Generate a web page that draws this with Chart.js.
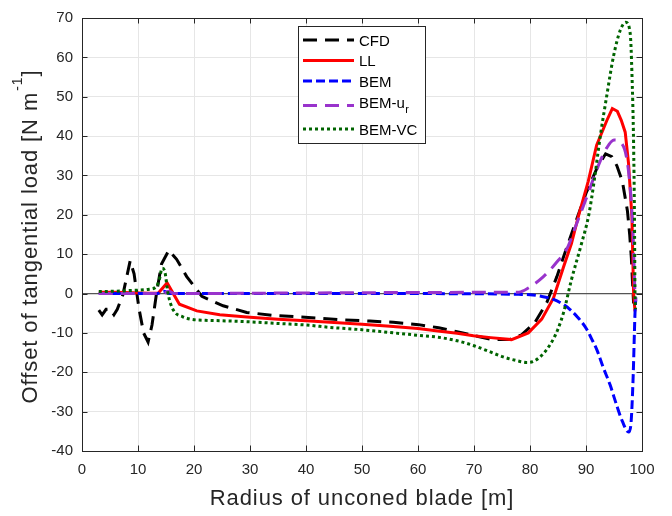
<!DOCTYPE html>
<html>
<head>
<meta charset="utf-8">
<title>Offset of tangential load</title>
<script src="https://cdn.jsdelivr.net/npm/chart.js@4.4.1/dist/chart.umd.min.js"></script>
<style>
  html, body { margin: 0; padding: 0; background: #ffffff; }
  #wrap { width: 672px; height: 516px; }
</style>
</head>
<body>
<div id="wrap"><canvas id="loadChart" width="672" height="516"></canvas></div>
<script>
// Radius [m] and tangential load offset [N/m] for each model
const cfdR = [3, 3.6, 4.3, 5.0, 5.7, 6.3, 7.3, 8.6, 9.3, 10.2, 11, 11.8, 12.5, 13.3, 14.2, 15.5, 16.9, 18.7, 21.4, 25.2,
  29.4, 33.9, 38.3, 42.5, 47, 51.4, 55.6, 60.1, 63.7, 68, 73.2, 76.4, 78.5, 80.9, 83, 84.8, 86.2, 88, 90, 92,
  93.5, 94.6, 95.5, 96.5, 97.4, 97.8, 98.1, 98.3, 98.5];
const cfdLoad = [-4.2, -5.4, -4.0, -3.9, -5.4, -4.0, -0.3, 8.3, 5, -4, -10, -12.3, -8, 0, 7.5, 11, 8.7, 4.3, -0.7, -3.1,
  -4.8, -5.5, -5.9, -6.3, -6.7, -7.0, -7.3, -7.9, -8.7, -10, -11.7, -11.7, -10.5, -7.3, -2.3, 4.3, 10.2, 17.5, 25.5, 32,
  35.5, 34.8, 32.5, 28.5, 21, 15, 9, 3, -2.5];

const llR = [3, 6, 9, 12, 13.6, 15.2, 17.4, 20.5, 24.6, 30, 35, 40, 44.3, 50, 55, 60, 63.9, 67, 69.9, 73,
  76.7, 79.7, 82.1, 84.2, 86, 87.4, 88.6, 90.4, 91.9, 93.7, 94.7, 95.6, 96.3, 97, 97.6, 98.2, 98.5, 98.75];
const llLoad = [0.3, 0.3, 0.2, 0.1, 0.1, 2.7, -2.7, -4.4, -5.4, -6.0, -6.5, -6.9, -7.3, -7.8, -8.3, -8.9, -9.6, -10.1, -10.7, -11.2,
  -11.7, -10, -6.5, -1.1, 6.8, 12.7, 19.4, 28.5, 37.7, 43.9, 47, 46.3, 44, 41, 33, 19.4, 0, -4.5];

const bemR = [3, 13.5, 14.6, 15.6, 30, 50, 70, 78, 80, 82, 84.2, 86, 87.1, 88.5, 90.1, 91, 92, 93, 94.3, 95.5,
  96.5, 97.6, 98, 98.4, 98.75, 98.9];
const bemLoad = [0, 0, 0.6, 0, 0, 0, -0.05, -0.2, -0.3, -0.7, -1.5, -2.8, -4, -6, -9, -11.5, -14.5, -18.5, -23.2, -28.5,
  -32.5, -35.2, -33.5, -22, -5, -1];

const bemUrR = [3, 14.5, 15.5, 16.5, 40, 70, 78, 79.7, 82.4, 84.5, 86.8, 88, 90, 92.5, 93.7, 95, 96.1, 97.6, 98.4, 98.75, 98.9];
const bemUrLoad = [0, 0, 0.6, 0, 0.15, 0.3, 0.35, 1.4, 4.3, 7.5, 12, 16.5, 24, 33.5, 37, 39, 38.5, 31, 15.2, 0, -2];

const bemVcR = [3, 6, 9, 12, 13.3, 13.8, 14.3, 14.8, 15.3, 15.8, 16.6, 18, 19.3, 22, 24.6, 30, 35, 40, 44.3, 50,
  55, 60, 63.6, 67, 69.9, 72.5, 75.2, 77.5, 79.4, 80.5, 81.8, 83, 84.2, 85, 86, 87.4, 89.2, 90.5, 91.5, 92.5,
  93.7, 94.9, 96.1, 97.1, 97.9, 98.2, 98.5, 98.65, 98.75, 98.85];
const bemVcLoad = [0.5, 0.6, 0.8, 1.1, 1.8, 3.5, 6.4, 5.5, 0.5, -2.5, -4.8, -5.9, -6.5, -6.8, -6.9, -7.2, -7.6, -8.0, -8.6, -9.2,
  -9.9, -10.6, -11.1, -12.0, -13.2, -14.6, -16.1, -17.0, -17.5, -17.3, -16.1, -14.2, -11.5, -9, -4.8, 3.5, 12.7, 20, 29, 39.5,
  50.2, 60.2, 66.8, 68.9, 66, 56, 38, 20, 0, -4];

const zeroR = [0, 100];
const zeroLoad = [0, 0];

const xTicks = [0, 10, 20, 30, 40, 50, 60, 70, 80, 90, 100];
const yTicks = [-40, -30, -20, -10, 0, 10, 20, 30, 40, 50, 60, 70];

const FONT = '"Liberation Sans", Arial, Helvetica, sans-serif';
const AXIS_COLOR = '#262626';

// line styles shared by plot and legend
const styles = [
  { label: 'CFD', color: '#000000', dash: [14, 8] },
  { label: 'LL', color: '#ff0000', dash: [] },
  { label: 'BEM', color: '#0000ff', dash: [9, 4] },
  { label: 'BEM-u', sub: 'r', color: '#9933cc', dash: [14, 8] },
  { label: 'BEM-VC', color: '#006400', dash: [3, 3] }
];

function toPoints(xs, ys) {
  return xs.map(function (x, i) { return { x: x, y: ys[i] }; });
}

function lineSet(style, xs, ys, order, smooth) {
  return {
    label: style.label,
    data: toPoints(xs, ys),
    borderColor: style.color,
    borderWidth: 3,
    borderDash: style.dash,
    borderCapStyle: 'butt',
    pointRadius: 0,
    fill: false,
    tension: 0,
    cubicInterpolationMode: smooth ? 'monotone' : 'default',
    order: order
  };
}

// frame, inward ticks, axis titles and legend
const framePlugin = {
  id: 'frame',
  afterDraw: function (chart) {
    const ctx = chart.ctx;
    const a = chart.chartArea;
    const xs = chart.scales.x;
    const ys = chart.scales.y;

    ctx.save();
    ctx.strokeStyle = AXIS_COLOR;
    ctx.lineWidth = 1;
    ctx.setLineDash([]);
    ctx.strokeRect(Math.round(a.left) + 0.5, Math.round(a.top) + 0.5,
      Math.round(a.right - a.left), Math.round(a.bottom - a.top));

    const tl = 5.5;
    ctx.beginPath();
    xTicks.forEach(function (v) {
      const px = Math.round(xs.getPixelForValue(v)) + 0.5;
      ctx.moveTo(px, a.bottom); ctx.lineTo(px, a.bottom - tl);
      ctx.moveTo(px, a.top); ctx.lineTo(px, a.top + tl);
    });
    yTicks.forEach(function (v) {
      const py = Math.round(ys.getPixelForValue(v)) + 0.5;
      ctx.moveTo(a.left, py); ctx.lineTo(a.left + tl, py);
      ctx.moveTo(a.right, py); ctx.lineTo(a.right - tl, py);
    });
    ctx.stroke();

    // x title
    ctx.fillStyle = AXIS_COLOR;
    ctx.font = '22px ' + FONT;
    ctx.letterSpacing = '0.9px';
    ctx.textAlign = 'center';
    ctx.textBaseline = 'alphabetic';
    ctx.fillText('Radius of unconed blade [m]', (a.left + a.right) / 2, 505);

    // y title with superscript unit
    ctx.save();
    ctx.translate(37, (a.top + a.bottom) / 2 + 2);
    ctx.rotate(-Math.PI / 2);
    ctx.textAlign = 'left';
    const main = 'Offset of tangential load [N m';
    ctx.font = '22px ' + FONT;
    const w1 = ctx.measureText(main).width;
    const w3 = ctx.measureText(']').width;
    ctx.font = '14px ' + FONT;
    const w2 = ctx.measureText('-1').width + 1;
    const x0 = -(w1 + w2 + w3) / 2;
    ctx.font = '22px ' + FONT;
    ctx.fillText(main, x0, 0);
    ctx.font = '14px ' + FONT;
    ctx.fillText('-1', x0 + w1 + 1, -15);
    ctx.font = '22px ' + FONT;
    ctx.fillText(']', x0 + w1 + w2, 0);
    ctx.restore();

    // legend
    ctx.letterSpacing = '0px';
    ctx.fillStyle = '#ffffff';
    ctx.fillRect(298, 26, 127, 117);
    ctx.strokeStyle = AXIS_COLOR;
    ctx.lineWidth = 1;
    ctx.strokeRect(298.5, 26.5, 127, 117);

    const lineY = [40, 60.5, 81, 105.5, 129];
    const baseY = [45.5, 66, 86.5, 107.5, 134.5];
    styles.forEach(function (s, i) {
      ctx.strokeStyle = s.color;
      ctx.lineWidth = 3;
      ctx.lineCap = 'butt';
      ctx.setLineDash(s.dash);
      ctx.beginPath();
      ctx.moveTo(303, lineY[i]);
      ctx.lineTo(354, lineY[i]);
      ctx.stroke();
      ctx.setLineDash([]);
      ctx.fillStyle = '#000000';
      ctx.textAlign = 'left';
      ctx.font = '15px ' + FONT;
      ctx.fillText(s.label, 359, baseY[i]);
      if (s.sub) {
        const w = ctx.measureText(s.label).width;
        ctx.font = '11px ' + FONT;
        ctx.fillText(s.sub, 359 + w + 0.5, baseY[i] + 5);
      }
    });
    ctx.restore();
  }
};

const tickFont = { family: FONT, size: 15 };

const datasets = [
  lineSet(styles[0], cfdR, cfdLoad, 4, false),
  lineSet(styles[1], llR, llLoad, 3, false),
  lineSet(styles[2], bemR, bemLoad, 2, true),
  lineSet(styles[3], bemUrR, bemUrLoad, 1, true),
  lineSet(styles[4], bemVcR, bemVcLoad, 0, true),
  {
    label: 'zero',
    data: toPoints(zeroR, zeroLoad),
    borderColor: '#555555',
    borderWidth: 1.3,
    pointRadius: 0,
    fill: false,
    order: 5
  }
];

var ctx = document.getElementById('loadChart').getContext('2d');
var loadChart = new Chart(ctx, {
  type: 'line',
  data: { datasets: datasets },
  options: {
    responsive: false,
    animation: false,
    devicePixelRatio: 1,
    layout: { padding: { left: 0, right: 30, top: 11, bottom: 0 } },
    plugins: {
      legend: { display: false },
      tooltip: { enabled: false }
    },
    scales: {
      x: {
        type: 'linear',
        min: xTicks[0],
        max: xTicks[xTicks.length - 1],
        afterFit: function (s) { s.height = 65; },
        afterBuildTicks: function (s) { s.ticks = xTicks.map(function (v) { return { value: v }; }); },
        ticks: { font: tickFont, color: AXIS_COLOR, padding: 10, maxRotation: 0, autoSkip: false },
        grid: { color: '#e6e6e6', lineWidth: 1, drawTicks: false },
        border: { display: false }
      },
      y: {
        type: 'linear',
        min: yTicks[0],
        max: yTicks[yTicks.length - 1],
        afterFit: function (s) { s.width = 82; },
        afterBuildTicks: function (s) { s.ticks = yTicks.map(function (v) { return { value: v }; }); },
        ticks: { font: tickFont, color: AXIS_COLOR, padding: 9, autoSkip: false },
        grid: { color: '#e6e6e6', lineWidth: 1, drawTicks: false },
        border: { display: false }
      }
    }
  },
  plugins: [framePlugin]
});
</script>
</body>
</html>
